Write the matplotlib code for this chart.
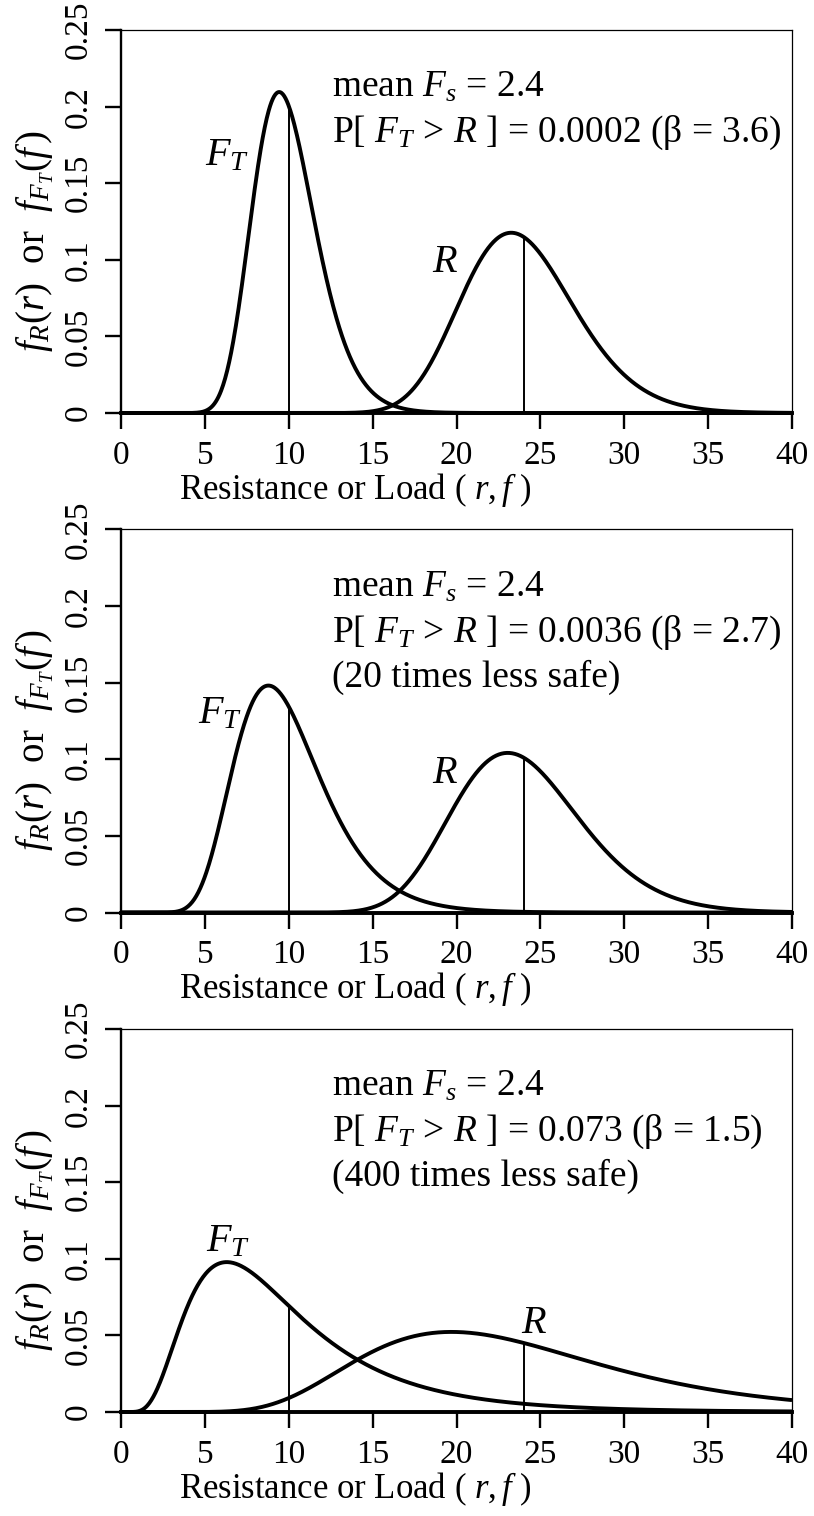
import numpy as np
import matplotlib
matplotlib.use("Agg")
import matplotlib.pyplot as plt

# Lognormal load (F_T) and resistance (R): means and coefficients of variation per panel
load_mean = [10, 10, 10]
load_cov = [0.20, 0.30, 0.60]
res_mean = [24, 24, 24]
res_cov = [0.145, 0.165, 0.375]

prob_text = ["0.0002", "0.0036", "0.073"]
beta_text = ["3.6", "2.7", "1.5"]
extra_text = ["", "(20 times less safe)", "(400 times less safe)"]

# label positions (data coords) for the F_T and R tags
ft_label_xy = [(6.3, 0.168), (5.9, 0.130), (6.4, 0.111)]
r_label_xy = [(19.3, 0.098), (19.3, 0.091), (24.6, 0.058)]

x_ticks = [0, 5, 10, 15, 20, 25, 30, 35, 40]
y_ticks = [0, 0.05, 0.1, 0.15, 0.2, 0.25]
y_tick_labels = ["0", "0.05", "0.1", "0.15", "0.2", "0.25"]

plt.rcParams["font.family"] = ["Liberation Serif", "DejaVu Serif"]
plt.rcParams["mathtext.fontset"] = "custom"
plt.rcParams["mathtext.rm"] = "Liberation Serif"
plt.rcParams["mathtext.it"] = "Liberation Serif:italic"


def lognorm_pdf(x, mean, cov):
    s2 = np.log(1 + cov ** 2)
    mu = np.log(mean) - s2 / 2
    return np.exp(-(np.log(x) - mu) ** 2 / (2 * s2)) / (x * np.sqrt(2 * np.pi * s2))


W, H = 814, 1516
fig = plt.figure(figsize=(W / 100, H / 100), dpi=100)

left_px, right_px = 121, 792
tops_px = [30, 529.5, 1029]
height_px = 383

x = np.linspace(0.05, 40, 1000)

for i in range(3):
    ax = fig.add_axes([left_px / W, 1 - (tops_px[i] + height_px) / H,
                       (right_px - left_px) / W, height_px / H])
    ax.set_xlim(0, 40)
    ax.set_ylim(0, 0.25)

    yf = lognorm_pdf(x, load_mean[i], load_cov[i])
    yr = lognorm_pdf(x, res_mean[i], res_cov[i])
    ax.plot(x, yf, color="black", lw=2.8, solid_capstyle="butt", clip_on=False)
    ax.plot(x, yr, color="black", lw=2.8, solid_capstyle="butt", clip_on=False)
    ax.plot([0, 40], [0, 0], color="black", lw=2.8, clip_on=False)

    # mean lines
    ax.vlines(load_mean[i], 0, lognorm_pdf(load_mean[i], load_mean[i], load_cov[i]),
              color="black", lw=1.4)
    ax.vlines(res_mean[i], 0, lognorm_pdf(res_mean[i], res_mean[i], res_cov[i]),
              color="black", lw=1.4)

    # axes styling (R base look)
    ax.spines["left"].set_linewidth(1.7)
    ax.spines["bottom"].set_linewidth(1.7)
    ax.spines["top"].set_linewidth(0.9)
    ax.spines["right"].set_linewidth(0.9)
    ax.set_xticks(x_ticks)
    ax.set_xticklabels([str(t) for t in x_ticks])
    ax.set_yticks(y_ticks)
    ax.set_yticklabels(y_tick_labels, rotation=90, va="center")
    ax.tick_params(direction="out", length=11.5, width=1.7, labelsize=24)
    ax.tick_params(axis="x", pad=8)
    ax.tick_params(axis="y", pad=8)

    # curve tags
    ax.text(*ft_label_xy[i], r"$F_T$", fontsize=29, ha="center", va="center")
    ax.text(*r_label_xy[i], r"$R$", fontsize=29, ha="center", va="center")

    # annotation block
    ax.text(12.6, 0.2063, r"mean $F_s$ = 2.4", fontsize=27, va="baseline")
    ax.text(12.6, 0.1769, r"P[ $F_T$ > $R$ ] = " + prob_text[i] + " (β = " + beta_text[i] + ")",
            fontsize=27, va="baseline")
    if extra_text[i]:
        ax.text(12.6, 0.1475, extra_text[i], fontsize=27, va="baseline")

    # axis labels
    ax.text((355 - left_px) / (right_px - left_px), -(490 - 413) / height_px,
            r"Resistance or Load ( $r, f$ )", fontsize=25,
            ha="center", va="center", transform=ax.transAxes)
    ax.text((35 - left_px) / (right_px - left_px), (413 - 241) / height_px,
            r"$f_R(r)$  or  $f_{F_T}(f\,)$", fontsize=28, rotation=90,
            ha="center", va="center", transform=ax.transAxes)

fig.savefig("out.png", dpi=100)
